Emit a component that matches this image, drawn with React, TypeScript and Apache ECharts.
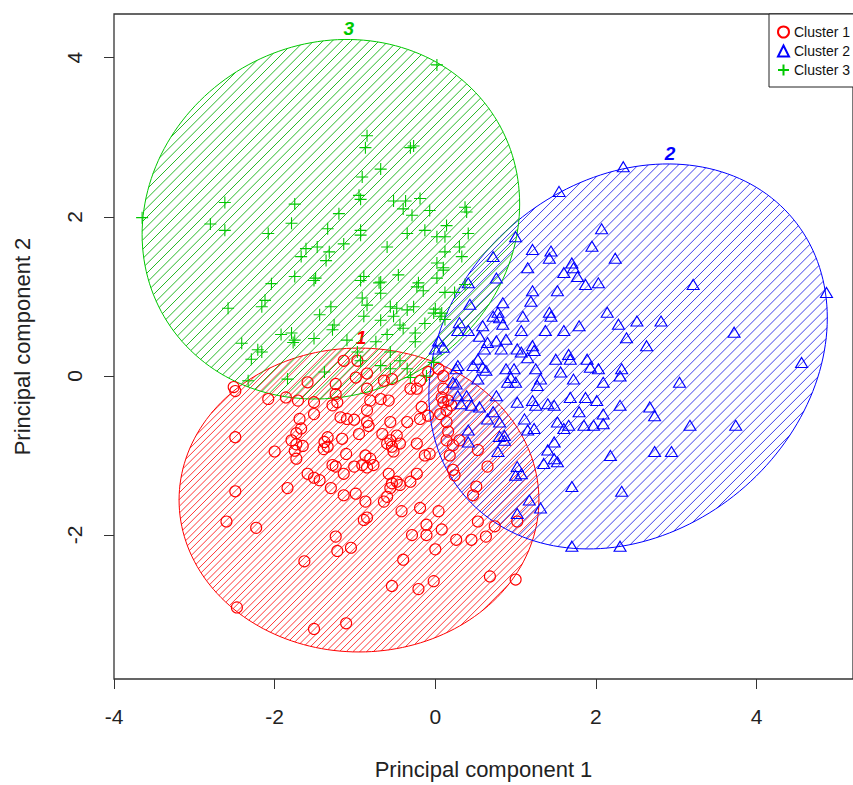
import React, { useEffect, useRef } from "react";
import * as echarts from "echarts";

// ---------------- data ----------------
const clusterNames = ["Cluster 1", "Cluster 2", "Cluster 3"];
const ellipseLabels = ["1", "2", "3"];
const xTicks = [-4, -2, 0, 2, 4];
const yTicks = [-2, 0, 2, 4];
const xTitle = "Principal component 1";
const yTitle = "Principal component 2";

// Cluster 1 (red circles)
const cluster1: [number, number][] = [
  [-2.51, -0.14], [-2.49, -0.19], [-2.08, -0.29], [-1.86, -0.27], [-1.71, -0.31], [-1.59, -0.08], [-1.51, -0.33], [-1.51, -0.48],
  [-1.24, -0.10], [-1.24, -0.23], [-1.22, -0.33], [-1.28, -0.37], [-1.14, 0.19], [-0.97, 0.19], [-0.99, -0.02], [-0.85, 0.03], [-0.85, -0.16],
  [-0.64, -0.06], [-0.54, -0.04], [-0.81, -0.31], [-0.68, -0.29], [-0.58, -0.31], [-0.31, -0.16], [-0.23, -0.16], [-0.19, -0.06],
  [-0.09, 0.05], [0.04, 0.09], [-0.17, -0.39], [-0.09, -0.50], [-0.19, -0.54], [0.10, -0.16], [0.10, -0.33], [0.14, -0.43], [0.06, -0.48],
  [-1.69, -0.54], [-1.67, -0.66], [-1.73, -0.72], [-1.79, -0.81], [-1.73, -0.86], [-1.65, -0.88], [-1.75, -0.94], [-1.73, -1.04],
  [-2.00, -0.95], [-2.49, -0.77], [-1.18, -0.52], [-1.10, -0.54], [-1.01, -0.55], [-0.95, -0.73], [-0.85, -0.43], [-0.85, -0.58], [-0.83, -0.63],
  [-1.34, -0.77], [-1.38, -0.83], [-1.34, -0.89], [-1.39, -0.92], [-1.16, -0.79], [-1.11, -0.98], [-1.28, -1.12], [-1.24, -1.14],
  [-0.87, -1.00], [-0.81, -1.04], [-0.77, -1.12], [-0.85, -1.15], [-0.91, -1.12], [-1.01, -1.14],
  [-0.66, -0.73], [-0.60, -0.85], [-0.48, -0.75], [-0.44, -0.85], [-0.54, -0.89], [-0.56, -0.81], [-0.52, -0.95], [-0.56, -0.58], [-0.35, -0.58],
  [-0.23, -0.85], [-0.13, -1.00], [-0.07, -0.98], [-1.59, -1.23], [-1.44, -1.31], [-1.51, -1.28], [-1.30, -1.41], [-1.14, -1.23], [-1.14, -1.50], [-0.99, -1.48],
  [-0.58, -1.23], [-0.54, -1.35], [-0.48, -1.33], [-0.44, -1.37], [-0.56, -1.41], [-0.60, -1.52], [-0.64, -1.58], [-0.31, -1.33], [-0.23, -1.23],
  [-0.87, -1.58], [-1.84, -1.41], [-2.49, -1.45], [-2.60, -1.83], [-2.23, -1.91], [-0.89, -1.81], [-0.85, -1.78], [-1.24, -2.02], [-1.22, -2.20], [-1.05, -2.16],
  [-1.63, -2.33], [-0.42, -1.70], [-0.19, -1.66], [-0.29, -2.00], [-0.11, -2.00], [-0.11, -1.87], [0.04, -1.70], [0.08, -1.93], [0.00, -2.18],
  [-0.40, -2.31], [-0.54, -2.64], [-0.21, -2.68], [-0.02, -2.58], [0.26, -2.06], [0.45, -2.06], [0.53, -1.83], [0.63, -2.02], [0.74, -1.89], [1.02, -1.83],
  [0.68, -2.52], [1.00, -2.56], [-2.47, -2.91], [-1.51, -3.18], [-1.11, -3.11],
  [0.14, -0.81], [0.22, -0.87], [0.30, -0.81], [0.18, -1.00], [0.22, -1.18], [0.24, -1.25], [0.47, -1.50], [0.51, -1.39], [0.53, -0.93], [0.65, -1.14],
  [0.10, 0.00], [0.08, -0.27], [0.14, -0.58], [0.16, -0.70], [0.16, -0.31], [0.20, -0.37],
];

// Cluster 2 (blue triangles)
const cluster2: [number, number][] = [
  [2.34, 2.63], [1.54, 2.32], [2.07, 1.85], [1.95, 1.63], [2.24, 1.48], [1.00, 1.75], [1.21, 1.59], [1.44, 1.57], [1.42, 1.48], [0.72, 1.50], [1.15, 1.36],
  [1.70, 1.42], [1.72, 1.36], [1.60, 1.30], [1.77, 1.25], [1.87, 1.15], [2.03, 1.17], [3.21, 1.15], [4.87, 1.05], [0.76, 1.23], [0.41, 1.17],
  [1.21, 1.07], [1.19, 0.94], [1.52, 1.07], [0.84, 0.92], [0.78, 0.80], [0.43, 0.90], [1.42, 0.80], [1.44, 0.75], [2.14, 0.80],
  [2.28, 0.65], [2.51, 0.69], [2.81, 0.69], [3.72, 0.55], [4.56, 0.17], [0.30, 0.67], [0.41, 0.57], [0.28, 0.57],
  [0.59, 0.63], [0.72, 0.75], [0.80, 0.73], [0.84, 0.65], [1.09, 0.75], [1.07, 0.57], [0.88, 0.46], [1.37, 0.57], [1.60, 0.57], [1.79, 0.63],
  [2.38, 0.48], [2.63, 0.38], [0.55, 0.50], [0.65, 0.42], [0.61, 0.34], [0.04, 0.44], [0.10, 0.36], [0.00, 0.34],
  [1.02, 0.34], [1.07, 0.30], [1.21, 0.38], [1.23, 0.32], [1.15, 0.23], [0.76, 0.44], [0.82, 0.34], [1.50, 0.21], [1.66, 0.27], [1.68, 0.21],
  [1.89, 0.21], [1.93, 0.11], [2.03, 0.09], [2.32, 0.09], [2.30, 0.00], [0.28, 0.13], [0.26, 0.09], [0.22, -0.08],
  [0.53, 0.21], [0.47, 0.13], [0.59, 0.11], [0.63, 0.07], [0.53, -0.04], [0.88, 0.09], [0.98, 0.09], [0.94, -0.02], [1.00, -0.08], [0.90, -0.08],
  [1.25, 0.09], [1.31, -0.04], [1.27, -0.12], [1.72, -0.04], [1.56, 0.05], [2.09, -0.08], [3.04, -0.08], [0.26, -0.10], [0.28, -0.25],
  [0.76, -0.25], [1.02, -0.33], [1.21, -0.31], [1.25, -0.37], [0.45, -0.37], [0.55, -0.39], [0.72, -0.45],
  [1.40, -0.35], [1.48, -0.37], [1.68, -0.27], [1.87, -0.27], [2.01, -0.31], [1.79, -0.45], [2.09, -0.48], [2.30, -0.37], [2.67, -0.39], [2.73, -0.50],
  [1.52, -0.58], [1.66, -0.62], [1.85, -0.62], [1.97, -0.62], [2.09, -0.60], [1.60, -0.66], [1.11, -0.54], [1.23, -0.66], [1.15, -0.68],
  [0.80, -0.58], [0.86, -0.75], [0.80, -0.76], [0.65, -0.54], [0.41, -0.68], [3.17, -0.62], [3.74, -0.62],
  [1.48, -0.83], [1.40, -0.93], [1.48, -1.04], [1.35, -1.10], [1.52, -1.08], [2.18, -1.00], [2.73, -0.95], [2.94, -0.95], [0.78, -0.95],
  [1.02, -1.14], [1.00, -1.25], [1.70, -1.39], [2.32, -1.45], [1.17, -1.56], [1.31, -1.66], [1.02, -1.73], [1.70, -2.14], [2.30, -2.14],
  [1.07, -1.23], [0.86, -0.81], [0.39, -0.25], [0.32, -0.35], [0.41, -0.83],
];

// Cluster 3 (green crosses)
const cluster3: [number, number][] = [
  [0.02, 3.91], [-3.65, 1.99], [-0.85, 3.02], [-0.87, 2.87], [-0.27, 2.89], [-0.31, 2.87], [-0.68, 2.60], [-0.91, 2.50], [-0.95, 2.27], [-0.93, 2.22],
  [-2.62, 2.18], [-2.80, 1.91], [-2.62, 1.83], [-1.75, 2.16], [-1.79, 1.92], [-2.08, 1.79], [-1.20, 2.04], [-1.34, 1.85], [-0.93, 1.83], [-0.93, 1.77],
  [-0.60, 1.62], [-1.14, 1.66], [-0.52, 2.20], [-0.37, 2.20], [-0.19, 2.23], [-0.40, 2.10], [-0.29, 2.02], [-0.07, 2.08], [0.37, 2.12], [0.39, 2.06],
  [-0.35, 1.79], [-0.13, 1.83], [0.02, 1.75], [0.14, 1.89], [0.12, 1.75], [0.41, 1.79], [0.12, 1.56], [0.30, 1.62], [0.33, 1.50], [-1.61, 1.60],
  [-1.67, 1.50], [-1.47, 1.62], [-1.32, 1.56], [-1.36, 1.45], [-1.75, 1.25], [-1.51, 1.20], [-2.04, 1.16], [-2.12, 0.95], [-2.16, 0.87], [-2.58, 0.85],
  [-0.93, 1.20], [-0.68, 1.18], [-0.46, 1.27], [-0.23, 1.12], [0.02, 1.23], [0.10, 1.33], [-0.91, 0.98], [-0.85, 0.89], [-0.68, 1.04], [-0.56, 0.87],
  [-0.48, 0.85], [-0.35, 0.83], [-0.27, 0.87], [-0.02, 0.79], [0.08, 0.79], [-0.13, 0.66], [-1.30, 0.87], [-1.44, 0.77], [-1.26, 0.64], [-1.28, 0.58],
  [-0.89, 0.75], [-0.68, 0.70], [-0.52, 0.75], [-0.44, 0.64], [-0.25, 0.54], [-0.40, 0.60], [-1.92, 0.52], [-1.79, 0.54], [-1.75, 0.45], [-1.51, 0.47],
  [-2.41, 0.41], [-2.21, 0.33], [-1.10, 0.45], [-0.74, 0.43], [-0.60, 0.52], [-0.25, 0.43], [-2.29, 0.21], [-0.97, 0.30], [-0.93, 0.19], [-0.56, 0.30],
  [-0.44, 0.19], [-0.56, 0.09], [-0.68, 0.13], [-0.31, -0.02], [-0.35, 0.09], [-1.38, 0.05], [-1.84, -0.04], [-2.33, -0.06], [-0.11, 0.00], [-0.02, 0.17],
  [0.02, 1.42], [0.10, 1.36], [0.12, 1.05], [0.24, 1.05], [0.37, 1.15], [0.00, 0.84], [0.06, 0.75], [0.12, 0.71], [-0.21, 1.17], [-0.15, 1.07],
  [-1.49, 1.23], [-0.89, 1.25], [-0.70, 1.17], [-2.16, 0.30], [-1.77, 0.42],
];

// Cluster ellipses (data units): centre, half-width, half-height, covariance-like cross term
const ellipseCx = [-0.95, 2.4, -1.3];
const ellipseCy = [-1.56, 0.245, 1.97];
const ellipseHalfW = [2.24, 2.48, 2.35];
const ellipseHalfH = [1.91, 2.42, 2.26];
const ellipseCross = [0, 1.2, 0.45];

// ---------------- styles ----------------
const COLORS = ["#FF0000", "#0000FF", "#00C800"];
const HATCH_COLORS = ["#FF2020", "#2A2AE8", "#10B010"];
const HATCH_SPACING = [4.8, 7.1, 6.6];
const FONT = "'Liberation Sans', Arial, Helvetica, sans-serif";
const AXIS_COLOR = "#333";

function renderEllipse(params: any, api: any) {
  const i = api.value(2);
  const cx = ellipseCx[i];
  const cy = ellipseCy[i];
  const hw = ellipseHalfW[i];
  const hh = ellipseHalfH[i];
  const k = ellipseCross[i];
  const cdy = k / hw;
  const d = Math.sqrt(Math.max(hh * hh - cdy * cdy, 1e-6));
  const c = api.coord([cx, cy]);
  const pu = api.coord([cx + hw, cy + cdy]);
  const pv = api.coord([cx, cy + d]);
  const U = [pu[0] - c[0], pu[1] - c[1]];
  const V = [pv[0] - c[0], pv[1] - c[1]];
  const P = (t: number) => [
    c[0] + U[0] * Math.cos(t) + V[0] * Math.sin(t),
    c[1] + U[1] * Math.cos(t) + V[1] * Math.sin(t),
  ];
  const color = COLORS[i];
  const children: any[] = [];
  // hatch lines at 45 degrees
  const n = [Math.SQRT1_2, Math.SQRT1_2];
  const A = n[0] * U[0] + n[1] * U[1];
  const B = n[0] * V[0] + n[1] * V[1];
  const R = Math.sqrt(A * A + B * B);
  const phi = Math.atan2(B, A);
  const nc = n[0] * c[0] + n[1] * c[1];
  const sp = HATCH_SPACING[i];
  const kStart = Math.ceil((nc - R) / sp);
  const kEnd = Math.floor((nc + R) / sp);
  for (let kk = kStart; kk <= kEnd; kk++) {
    const s = kk * sp - nc;
    const r = s / R;
    if (r <= -1 || r >= 1) continue;
    const a = Math.acos(r);
    const p1 = P(phi + a);
    const p2 = P(phi - a);
    children.push({
      type: "line",
      shape: { x1: p1[0], y1: p1[1], x2: p2[0], y2: p2[1] },
      style: { stroke: HATCH_COLORS[i], lineWidth: 1, opacity: 0.9 },
    });
  }
  const pts: number[][] = [];
  for (let j = 0; j < 180; j++) pts.push(P((j / 180) * Math.PI * 2));
  children.push({
    type: "polygon",
    shape: { points: pts },
    style: { fill: "none", stroke: color, lineWidth: 1 },
  });
  // label at the top of the ellipse
  const tTop = Math.atan2(-V[1], -U[1]);
  const top = P(tTop);
  children.push({
    type: "text",
    x: top[0] + 2,
    y: top[1] - 1,
    style: {
      text: ellipseLabels[i],
      fill: color,
      font: `italic bold 19px ${FONT}`,
      align: "center",
      verticalAlign: "bottom",
    },
  });
  return { type: "group", children };
}

export default function App() {
  const ref = useRef<HTMLDivElement>(null);
  useEffect(() => {
    if (!ref.current) return;
    const chart = echarts.init(ref.current, null, { renderer: "svg" });
    const ellipseData = ellipseCx.map((x, i) => [x, ellipseCy[i], i]);
    const pointSeries = [cluster1, cluster2, cluster3].map((pts, i) => ({
      type: "scatter",
      name: clusterNames[i],
      data: pts,
      z: 3,
      symbol: i === 0 ? "circle" : i === 1 ? "triangle" : "path://M0,6L12,6M6,0L6,12",
      symbolSize: i === 0 ? 11 : i === 1 ? [12, 10] : 12,
      itemStyle: { color: "rgba(0,0,0,0)", borderColor: COLORS[i], borderWidth: 1.1, opacity: 1 },
      emphasis: { disabled: true },
      silent: true,
    }));
    chart.setOption({
      animation: false,
      backgroundColor: "#fff",
      textStyle: { fontFamily: FONT },
      grid: {
        left: 114,
        top: 14,
        bottom: 104,
        right: -4.4,
        show: true,
        borderColor: AXIS_COLOR,
        borderWidth: 1.3,
        backgroundColor: "transparent",
      },
      xAxis: {
        type: "value",
        min: -4,
        max: 5.2,
        name: xTitle,
        nameLocation: "middle",
        nameGap: 79,
        nameTextStyle: { fontSize: 22, color: "#222", fontFamily: FONT },
        splitLine: { show: false },
        axisLine: { show: false, onZero: false },
        axisTick: { show: true, length: 10, customValues: xTicks, lineStyle: { color: AXIS_COLOR } },
        axisLabel: { customValues: xTicks, fontSize: 21, color: "#222", margin: 27, fontFamily: FONT },
      },
      yAxis: {
        type: "value",
        min: -3.81,
        max: 4.55,
        name: yTitle,
        nameLocation: "middle",
        nameGap: 81,
        nameTextStyle: { fontSize: 22, color: "#222", fontFamily: FONT },
        splitLine: { show: false },
        axisLine: { show: false, onZero: false },
        axisTick: { show: true, length: 10, customValues: yTicks, lineStyle: { color: AXIS_COLOR } },
        axisLabel: { customValues: yTicks, fontSize: 21, color: "#222", margin: 29, rotate: 90, fontFamily: FONT },
      },
      legend: {
        data: clusterNames,
        orient: "vertical",
        left: 769,
        top: 14,
        itemWidth: 11,
        itemHeight: 11,
        itemGap: 5,
        padding: [11, 40, 10, 8],
        borderColor: "#222",
        borderWidth: 1,
        backgroundColor: "#fff",
        textStyle: { fontSize: 14, color: "#111", fontFamily: FONT },
        selectedMode: false,
      },
      series: [
        {
          type: "custom",
          name: "ellipses",
          data: ellipseData,
          renderItem: renderEllipse,
          silent: true,
          z: 1,
        },
        ...pointSeries,
      ],
    });
    return () => chart.dispose();
  }, []);
  return (
    <div
      ref={ref}
      style={{ position: "fixed", left: 0, top: 0, width: 853, height: 785, background: "#fff" }}
    />
  );
}
